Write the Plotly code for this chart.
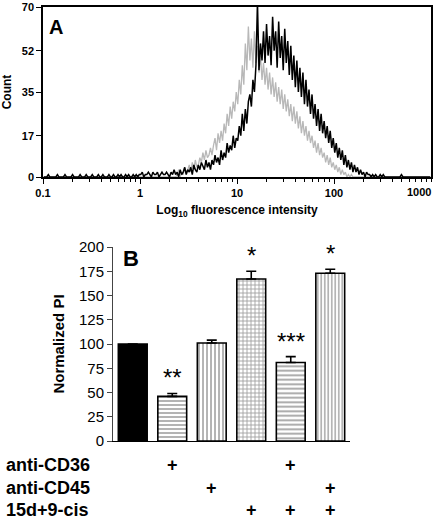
import plotly.graph_objects as go

# ---------------- Panel A data (flow cytometry histogram, 64 channels / decade, 0.1 .. 1000) ----------------
channels_per_decade = 64
black_counts = [
    0, 0, 0, 1, 0, 0, 0, 0, 0, 1, 0, 0, 0, 0, 1, 0,
    0, 0, 0, 1, 0, 0, 0, 0, 1, 0, 0, 0, 1, 0, 0, 0,
    1, 0, 0, 0, 1, 0, 0, 1, 0, 0, 0, 1, 0, 0, 1, 0,
    0, 1, 0, 1, 0, 0, 1, 0, 1, 0, 0, 1, 0, 1, 0, 1,
    1, 2, 0, 1, 1, 2, 1, 0, 2, 1, 1, 2, 0, 1, 2, 1,
    1, 2, 1, 0, 2, 1, 3, 1, 2, 0, 3, 1, 2, 4, 1, 3,
    2, 4, 1, 5, 3, 2, 5, 3, 6, 4, 3, 7, 4, 6, 3, 7,
    5, 9, 6, 8, 5, 11, 7, 10, 8, 14, 10, 13, 11, 17, 12, 16,
    15, 21, 17, 26, 19, 28, 22, 31, 34, 29, 40, 35, 46, 72, 44, 55,
    48, 60, 47, 63, 50, 58, 46, 66, 52, 60, 45, 64, 49, 58, 44, 61,
    47, 56, 42, 54, 40, 50, 37, 48, 35, 45, 33, 43, 30, 40, 29, 36,
    26, 34, 24, 30, 21, 28, 19, 26, 18, 23, 16, 21, 14, 19, 12, 16,
    10, 14, 8, 12, 7, 11, 5, 9, 4, 7, 3, 6, 2, 5, 2, 4,
    1, 3, 1, 2, 0, 2, 1, 1, 0, 1, 0, 1, 0, 0, 1, 0,
    1, 0, 0, 0, 0, 0, 0, 0, 0, 0, 0, 0, 1, 0, 0, 0,
    0, 0, 0, 0, 0, 0, 0, 0, 0, 0, 0, 0, 0, 0, 0, 0,
]

gray_counts = [
    0, 0, 0, 0, 0, 0, 0, 0, 0, 0, 0, 0, 0, 0, 0, 0,
    0, 0, 0, 0, 0, 0, 0, 0, 0, 0, 0, 0, 0, 0, 0, 0,
    0, 0, 0, 0, 0, 0, 0, 0, 0, 0, 0, 0, 0, 0, 0, 0,
    0, 0, 0, 0, 0, 0, 0, 0, 0, 0, 0, 0, 0, 0, 0, 0,
    0, 0, 0, 0, 0, 0, 0, 0, 0, 0, 0, 0, 0, 0, 0, 0,
    0, 0, 0, 0, 0, 0, 0, 0, 1, 3, 0, 2, 1, 4, 2, 3,
    5, 2, 6, 3, 7, 4, 5, 8, 6, 10, 7, 11, 8, 9, 12, 9,
    13, 16, 11, 18, 14, 19, 15, 22, 18, 26, 21, 29, 24, 31, 27, 35,
    30, 40, 34, 46, 38, 55, 44, 62, 48, 57, 45, 60, 47, 54, 43, 50,
    40, 47, 38, 45, 36, 43, 34, 41, 33, 39, 31, 37, 30, 36, 28, 34,
    27, 32, 25, 30, 23, 29, 22, 27, 20, 25, 18, 23, 17, 21, 15, 19,
    14, 17, 12, 15, 10, 14, 9, 12, 8, 10, 6, 9, 5, 8, 4, 6,
    3, 5, 2, 4, 1, 3, 1, 2, 0, 1, 0, 1, 0, 0, 0, 0,
    0, 0, 0, 0, 0, 0, 0, 0, 0, 0, 0, 0, 0, 0, 0, 0,
    0, 0, 0, 0, 0, 0, 0, 0, 0, 0, 0, 0, 0, 0, 0, 0,
    0, 0, 0, 0, 0, 0, 0, 0, 0, 0, 0, 0, 0, 0, 0, 0,
]

chan_x = [10 ** (-1 + (i + 0.5) / channels_per_decade) for i in range(len(black_counts))]

a_xtick_vals = [0.1, 1, 10, 100, 1000]
a_xtick_text = ["0.1", "1", "10", "100", "1000"]
a_ytick_vals = [0, 17, 35, 52, 70]

# ---------------- Panel B data ----------------
b_conditions = [0, 1, 2, 3, 4, 5]
b_values = [100, 46, 101, 167, 81, 173]
b_errors = [0, 3, 3, 8, 6, 4]
b_stars = ["", "**", "", "*", "***", "*"]
b_patterns = ["", "-", "|", "+", "-", "|"]
b_row_labels = ["anti-CD36", "anti-CD45", "15d+9-cis"]
b_row_marks = [
    ["", "+", "", "", "+", ""],
    ["", "", "+", "", "", "+"],
    ["", "", "", "+", "+", "+"],
]

W, H = 436, 519
FONT = "Liberation Sans"


def px_x(p):
    return p / W


def px_y(p):
    return 1 - p / H


fig = go.Figure()

fig.add_trace(go.Scatter(x=chan_x, y=gray_counts, mode="lines",
                         line=dict(color="#b8b8b8", width=1.3),
                         xaxis="x", yaxis="y", showlegend=False, hoverinfo="skip"))
fig.add_trace(go.Scatter(x=chan_x, y=black_counts, mode="lines",
                         line=dict(color="black", width=1.5),
                         xaxis="x", yaxis="y", showlegend=False, hoverinfo="skip"))

bar_colors = ["black" if s == "" else "white" for s in b_patterns]
pattern_sizes = [4, 4, 4, 4, 4.5, 3.5]
fig.add_trace(go.Bar(
    x=b_conditions, y=b_values, width=0.73,
    xaxis="x2", yaxis="y2", showlegend=False, hoverinfo="skip",
    marker=dict(color=bar_colors, line=dict(color="black", width=1.6),
                pattern=dict(shape=b_patterns, fgcolor="black", bgcolor=bar_colors,
                             size=pattern_sizes, solidity=0.4)),
    error_y=dict(type="data", symmetric=False, array=b_errors,
                 arrayminus=[0] * len(b_errors), color="black", thickness=1.6, width=5),
))

annotations = []
annotations.append(dict(text="<b>A</b>", x=px_x(47), y=px_y(14), xref="paper", yref="paper",
                        xanchor="left", yanchor="top", showarrow=False,
                        font=dict(family=FONT, size=20, color="black")))
annotations.append(dict(text="<b>B</b>", x=px_x(121), y=px_y(244), xref="paper", yref="paper",
                        xanchor="left", yanchor="top", showarrow=False,
                        font=dict(family=FONT, size=22, color="black")))
annotations.append(dict(text="<b>1000</b>", x=px_x(419), y=px_y(192), xref="paper", yref="paper",
                        xanchor="center", yanchor="middle", showarrow=False,
                        font=dict(family=FONT, size=11, color="black")))
for c, v, e, s in zip(b_conditions, b_values, b_errors, b_stars):
    if s:
        annotations.append(dict(text=s, x=c, y=v + e, xref="x2", yref="y2",
                                xanchor="center", yanchor="bottom", yshift=0, showarrow=False,
                                font=dict(family=FONT, size=24, color="black")))
row_y = [465, 488, 510]
for lab, marks, ry in zip(b_row_labels, b_row_marks, row_y):
    annotations.append(dict(text="<b>" + lab + "</b>", x=px_x(4), y=px_y(ry), xref="paper", yref="paper",
                            xanchor="left", yanchor="middle", showarrow=False,
                            font=dict(family=FONT, size=18, color="black")))
    for c, m in zip(b_conditions, marks):
        if m:
            annotations.append(dict(text="<b>+</b>", x=c, y=px_y(ry), xref="x2", yref="paper",
                                    xanchor="center", yanchor="middle", showarrow=False,
                                    font=dict(family=FONT, size=18, color="black")))

minor_vals = [m * 10 ** d for d in range(-1, 3) for m in range(2, 10)]

fig.update_layout(
    width=W, height=H,
    margin=dict(l=0, r=0, t=0, b=0),
    paper_bgcolor="white", plot_bgcolor="white",
    font=dict(family=FONT, color="black"),
    xaxis=dict(domain=[px_x(43), px_x(431)], type="log", range=[-1, 3], anchor="y",
               automargin=False,
               tickvals=a_xtick_vals[:-1], ticktext=a_xtick_text[:-1],
               ticks="outside", ticklen=5, tickwidth=1.2, tickcolor="black",
               minor=dict(tickvals=minor_vals + [1000], ticks="outside", ticklen=3, tickcolor="black",
                          showgrid=False),
               showline=True, linecolor="black", linewidth=1.5, mirror=True,
               showgrid=False, zeroline=False,
               tickfont=dict(family=FONT, size=11, weight="bold"),
               title=dict(text="<b>Log<sub>10</sub> fluorescence intensity</b>", standoff=8,
                          font=dict(family=FONT, size=12))),
    yaxis=dict(domain=[px_y(177), px_y(7)], range=[0, 70], anchor="x",
               automargin=False,
               tickvals=a_ytick_vals, ticks="outside", ticklen=5, tickwidth=1.2, tickcolor="black",
               showline=True, linecolor="black", linewidth=1.5, mirror=True,
               showgrid=False, zeroline=False,
               tickfont=dict(family=FONT, size=11, weight="bold"),
               title=dict(text="<b>Count</b>", standoff=10, font=dict(family=FONT, size=12))),
    xaxis2=dict(domain=[px_x(113), px_x(350)], range=[-0.5, 5.5], anchor="y2",
                automargin=False,
                showticklabels=False, ticks="", showline=True, linecolor="black", linewidth=1,
                showgrid=False, zeroline=False),
    yaxis2=dict(domain=[px_y(441), px_y(247)], range=[0, 200], anchor="x2",
                automargin=False,
                tick0=0, dtick=25, ticks="outside", ticklen=5, tickcolor="#444", tickwidth=1,
                showline=True, linecolor="#444", linewidth=1,
                showgrid=False, zeroline=False,
                tickfont=dict(family=FONT, size=15),
                title=dict(text="<b>Normalized PI</b>", standoff=10, font=dict(family=FONT, size=15))),
    annotations=annotations,
)

fig.write_html("out.html", config={"displayModeBar": False},
               post_script="document.body.style.margin='0';document.body.style.overflow='hidden';")
